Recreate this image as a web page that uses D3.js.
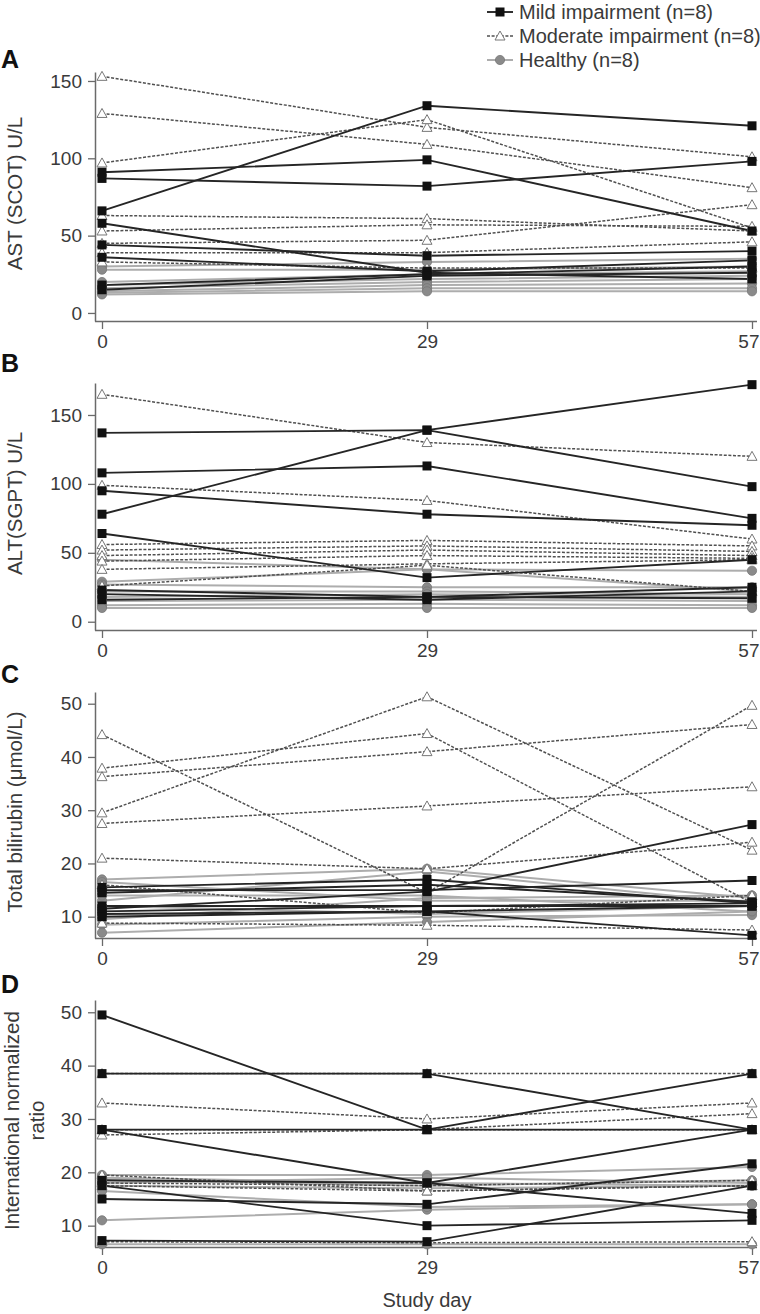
<!DOCTYPE html>
<html><head><meta charset="utf-8">
<script src="https://cdn.jsdelivr.net/npm/d3@7"></script>
<style>
html,body{margin:0;padding:0;background:#fff;}
svg{display:block;font-family:"Liberation Sans",Arial,sans-serif;}
.tick text{font-size:19px;fill:#3a3a3a;}
</style></head>
<body><svg id="c" width="760" height="1314"></svg>
<script>
const days = ["0","29","57"];
const legendLabels = ["Mild impairment (n=8)","Moderate impairment (n=8)","Healthy (n=8)"];

const astTicks = [0,50,100,150];
const astMild = [[66,134,121],[91,99,53],[87,82,98],[58,26,22],[44,37,40],[36,27,34],[18,25,30],[15,24,26]];
const astMod = [[153,120,101],[129,109,81],[97,125,55],[63,61,53],[53,57,56],[45,47,70],[39,39,46],[33,29,29]];
const astHealthy = [[30,33,35],[28,28,30],[20,25,27],[18,22,24],[16,20,22],[14,18,19],[13,16,16],[12,14,14]];

const altTicks = [0,50,100,150];
const altMild = [[78,139,172],[137,139,98],[108,113,75],[95,78,70],[64,32,45],[23,18,25],[20,16,22],[16,18,17]];
const altMod = [[165,130,120],[99,88,60],[56,59,55],[52,55,51],[48,52,48],[44,48,46],[38,42,45],[26,41,22]];
const altHealthy = [[45,38,37],[29,38,22],[27,25,25],[22,22,20],[18,20,18],[15,16,15],[12,13,12],[10,10,10]];

const bilTicks = [10,20,30,40,50];
const bilMild = [[11.5,14.7,27.3],[15,15,16.8],[15.5,17,12.5],[12,12,12.5],[10.5,11,6.5],[11,12,12],[14.5,16,12.8],[10,11,12]];
const bilMod = [[44.2,14.5,49.7],[29.5,51.3,22.5],[37.9,44.4,12.6],[36.3,41,46.1],[27.5,30.8,34.4],[21,19,24],[16,10.7,14],[8.8,8.4,7.5]];
const bilHealthy = [[17,19,13.5],[13,18.5,12.5],[16.5,13,13],[14,14,11],[8.5,10,10.3],[7,9,11],[12,10.5,12],[9.5,13.5,14]];

const inrTicks = [10,20,30,40,50];
const inrMild = [[49.5,28,38.5],[38.5,38.5,28],[28,28,28],[28,18,12.3],[18.5,18,28],[15,14,21.6],[17.5,10,11],[7.2,7,17.5]];
const inrMod = [[38.5,38.5,38.5],[33,30,33],[27,28,31],[28,28,28],[19.5,16.5,17.5],[18,17.5,18.5],[7,6.8,7],[17.5,16.5,17.5]];
const inrHealthy = [[19.5,19.5,21],[18.5,17.5,18.5],[11,13,14],[17.5,17,17.5],[18,19,18],[19,18,17.5],[16.5,13.5,14],[6.5,6.5,6.5]];

const panels = [
  {letter:"A", title:["AST (SCOT) U/L"], ticks:astTicks, mild:astMild, mod:astMod, healthy:astHealthy, dom:[-5.2,155.8], rng:[321,72], letterY:68},
  {letter:"B", title:["ALT(SGPT) U/L"], ticks:altTicks, mild:altMild, mod:altMod, healthy:altHealthy, dom:[-6,173.2], rng:[630,383], letterY:372},
  {letter:"C", title:["Total bilirubin (μmol/L)"], ticks:bilTicks, mild:bilMild, mod:bilMod, healthy:bilHealthy, dom:[6,52.2], rng:[938,692], letterY:683},
  {letter:"D", title:["International normalized","ratio"], ticks:inrTicks, mild:inrMild, mod:inrMod, healthy:inrHealthy, dom:[6,52.3], rng:[1247,1000], letterY:993}
];

const svg = d3.select("#c");
const x = d3.scalePoint().domain(days).range([102,752]);
const axisX0 = 95, axisX1 = 757;
const axisColor = "#6a6a6a";

const styles = {
  mild:{stroke:"#252525", width:1.9, dash:null},
  mod:{stroke:"#505050", width:1.5, dash:"3,1.6"},
  healthy:{stroke:"#adadad", width:2, dash:null}
};

function marker(g, type, cx, cy){
  if(type==="mild"){
    g.append("rect").attr("x",cx-4.5).attr("y",cy-4.5).attr("width",9).attr("height",9).attr("fill","#111");
  } else if(type==="mod"){
    const s=5;
    g.append("path").attr("d",`M${cx},${cy-s} L${cx+s},${cy+s*0.8} L${cx-s},${cy+s*0.8} Z`)
      .attr("fill","#fff").attr("stroke","#777").attr("stroke-width",1);
  } else {
    g.append("circle").attr("cx",cx).attr("cy",cy).attr("r",4.6).attr("fill","#8a8a8a").attr("stroke","#777").attr("stroke-width",0.8);
  }
}

panels.forEach(p=>{
  const y = d3.scaleLinear().domain(p.dom).range(p.rng);
  const g = svg.append("g");
  const ya = g.append("g").attr("transform",`translate(${axisX0},0)`)
    .call(d3.axisLeft(y).tickValues(p.ticks).tickSize(7).tickPadding(6).tickSizeOuter(0));
  ya.select(".domain").attr("stroke",axisColor).attr("stroke-width",1.5);
  ya.selectAll(".tick line").attr("stroke",axisColor).attr("stroke-width",1.3);
  const bottom = p.rng[0];
  g.append("line").attr("x1",axisX0).attr("x2",axisX1).attr("y1",bottom+0.5).attr("y2",bottom+0.5)
    .attr("stroke",axisColor).attr("stroke-width",1.5);
  const xa = g.append("g").attr("transform",`translate(0,${bottom})`)
    .call(d3.axisBottom(x).tickSize(8).tickPadding(6).tickSizeOuter(0));
  xa.select(".domain").remove();
  xa.selectAll(".tick line").attr("stroke",axisColor).attr("stroke-width",1.3);
  xa.selectAll(".tick text").filter(d=>d===days[days.length-1])
    .attr("text-anchor","end").attr("x",759-x(days[days.length-1]));

  const line = d3.line().x((d,i)=>x(days[i])).y(d=>y(d));
  ["healthy","mod","mild"].forEach(type=>{
    const st = styles[type];
    p[type].forEach(row=>{
      g.append("path").attr("d",line(row)).attr("fill","none")
        .attr("stroke",st.stroke).attr("stroke-width",st.width)
        .attr("stroke-dasharray",st.dash);
    });
  });
  ["healthy","mod","mild"].forEach(type=>{
    p[type].forEach(row=>{
      row.forEach((v,i)=>marker(g,type,x(days[i]),y(v)));
    });
  });

  g.append("text").attr("x",1).attr("y",p.letterY).text(p.letter)
    .attr("font-size",25).attr("font-weight","bold").attr("fill","#111");
  const cy = (p.rng[0]+p.rng[1])/2 - 3;
  p.title.forEach((t,i)=>{
    const tx = (p.title.length>1 ? 19 : 22) + i*25;
    g.append("text").attr("transform",`translate(${tx},${cy}) rotate(-90)`)
      .attr("text-anchor","middle").attr("font-size",20.5).attr("fill","#3a3a3a").text(t);
  });
});

svg.append("text").attr("x",427).attr("y",1307).attr("text-anchor","middle")
  .attr("font-size",20).attr("fill","#3a3a3a").text("Study day");

const lg = svg.append("g");
["mild","mod","healthy"].forEach((t,i)=>{
  const cy = 12 + i*24;
  const st = styles[t];
  lg.append("line").attr("x1",487).attr("x2",513).attr("y1",cy).attr("y2",cy)
    .attr("stroke",st.stroke).attr("stroke-width",st.width).attr("stroke-dasharray",st.dash);
  marker(lg,t,500,cy);
  lg.append("text").attr("x",519).attr("y",cy+7).attr("font-size",20).attr("fill","#3a3a3a").text(legendLabels[i]);
});
</script></body></html>
